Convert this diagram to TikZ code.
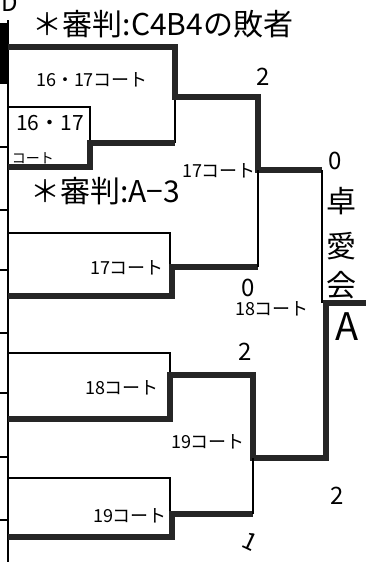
\documentclass[tikz,border=0pt]{standalone}
\usepackage{fontspec}
\newfontfamily\jpfont{Noto Sans CJK JP}
\tikzset{
  thinline/.style={line width=1.3pt},
  winline/.style={line width=6pt, black!85},
  court/.style={font=\jpfont\fontsize{18}{18}\selectfont, inner sep=0pt},
  note/.style={font=\jpfont\fontsize{30}{30}\selectfont, inner sep=0pt},
  score/.style={font=\jpfont\fontsize{24}{24}\selectfont, inner sep=0pt},
  club/.style={font=\jpfont\fontsize{30}{30}\selectfont, inner sep=0pt}
}

\begin{document}
\begin{tikzpicture}[x=1pt,y=-1pt]
\useasboundingbox (0,0) rectangle (366,562);
\clip (0,0) rectangle (366,562);
% left edge
\draw [thinline] (8,20) -- (8,562);
\fill (0,23) rectangle (9,84);
\foreach \y in {147,210,270,333,393,457,520} \draw [thinline] (0,\y) -- (8,\y);
\node [score, anchor=south] (top) at (10,12) {D};

% block 1
\draw [thinline] (175,97) -- (175,143);
\draw [thinline] (8,107) -- (90,107) -- (90,143);
\draw [winline] (8,47) -- (175,47) -- (175,97) -- (258,97) -- (258,170) -- (322,170);
\draw [winline] (8,167) -- (90,167) -- (90,143) -- (175,143);
% block 2
\draw [thinline] (8,233) -- (170,233) -- (170,267);
\draw [winline] (8,296) -- (172,296) -- (172,267) -- (258,267);
\draw [thinline] (258,170) -- (258,267);
% block 3
\draw [thinline] (8,353) -- (170,353) -- (170,375);
\draw [winline] (8,419) -- (170,419) -- (170,375) -- (253,375) -- (253,458) -- (326,458) -- (326,303) -- (366,303);
% block 4
\draw [thinline] (8,478) -- (170,478) -- (170,514);
\draw [winline] (8,537) -- (172,537) -- (172,514) -- (253,514);
\draw [thinline] (253,458) -- (253,514);
% final
\draw [thinline] (322,170) -- (322,303);

% texts
\node [note] (ref1) at (163,24) {＊審判:C4B4の敗者};
\node [note] (ref2) at (105,191) {＊審判:A−3};
\node [court] (c1) at (92,80) {16・17コート};
\node [court, font=\jpfont\fontsize{21}{21}\selectfont] (c2) at (50,123) {16・17};
\node [court, font=\jpfont\fontsize{14}{14}\selectfont] (c3) at (33,158) {コート};
\node [court] (c4) at (219,171) {17コート};
\node [court] (c5) at (127,268) {17コート};
\node [court] (c6) at (272,309) {18コート};
\node [court] (c7) at (122,388) {18コート};
\node [court] (c8) at (208,442) {19コート};
\node [court] (c9) at (130,516) {19コート};
\node [score] (s1) at (263,77) {2};
\node [score] (s2) at (248,288) {0};
\node [score] (s3) at (335,161) {0};
\node [score] (s4) at (245,352) {2};
\node [score, rotate=-25] (s5) at (250,542) {1};
\node [score] (s6) at (337,496) {2};
\node [club] (t1) at (341,201) {卓};
\node [club] (t2) at (341,246) {愛};
\node [club] (t3) at (341,285) {会};
\node [club, font=\jpfont\fontsize{38}{38}\selectfont] (t4) at (347,327) {A};
\end{tikzpicture}
\end{document}
